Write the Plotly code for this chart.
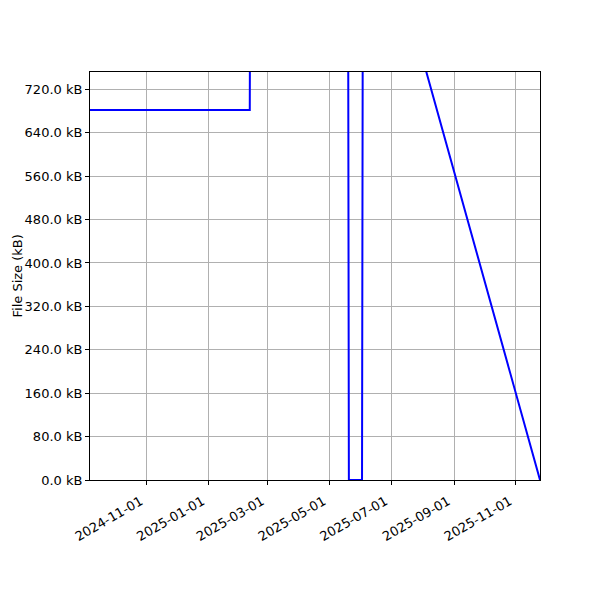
import plotly.graph_objects as go

dates = ["2024-09-06", "2025-02-11", "2025-02-12", "2025-05-19", "2025-05-20",
         "2025-06-02", "2025-06-03", "2025-11-25"]
sizes_kb = [682, 682, 1500, 1200, 0, 0, 1171, 0]

y_ticks = [0, 80, 160, 240, 320, 400, 480, 560, 640, 720]
y_labels = [f"{v:.1f} kB" for v in y_ticks]
x_ticks = ["2024-11-01", "2025-01-01", "2025-03-01", "2025-05-01",
           "2025-07-01", "2025-09-01", "2025-11-01"]

fig = go.Figure()
fig.add_trace(go.Scatter(x=dates, y=sizes_kb, mode="lines",
                         line=dict(color="#0000ff", width=2), showlegend=False))

fig.update_layout(
    width=600, height=600,
    margin=dict(l=82, r=68, t=64, b=128),
    paper_bgcolor="white", plot_bgcolor="white",
    font=dict(family="DejaVu Sans", size=13, color="black"),
    xaxis=dict(
        range=["2024-09-06", "2025-11-25"],
        tickvals=x_ticks, ticktext=x_ticks, tickangle=-30,
        ticklabelshift=-6, ticklabelstandoff=4,
        showgrid=True, gridcolor="#b0b0b0", gridwidth=1,
        showline=True, linecolor="black", linewidth=1, mirror=True,
        ticks="outside", ticklen=4, tickcolor="black",
        zeroline=False, automargin=False,
    ),
    yaxis=dict(
        range=[0, 752],
        tickvals=y_ticks, ticktext=y_labels,
        showgrid=True, gridcolor="#b0b0b0", gridwidth=1,
        showline=True, linecolor="black", linewidth=1, mirror=True,
        ticks="outside", ticklen=4, tickcolor="black",
        zeroline=False, automargin=False,
    ),
    annotations=[dict(
        text="File Size (kB)", textangle=-90, showarrow=False,
        xref="paper", yref="paper", x=-82 / 450, y=0.5,
        xanchor="left", yanchor="middle", font=dict(size=13),
        borderpad=0,
    )],
)

fig.write_html("out.html")
